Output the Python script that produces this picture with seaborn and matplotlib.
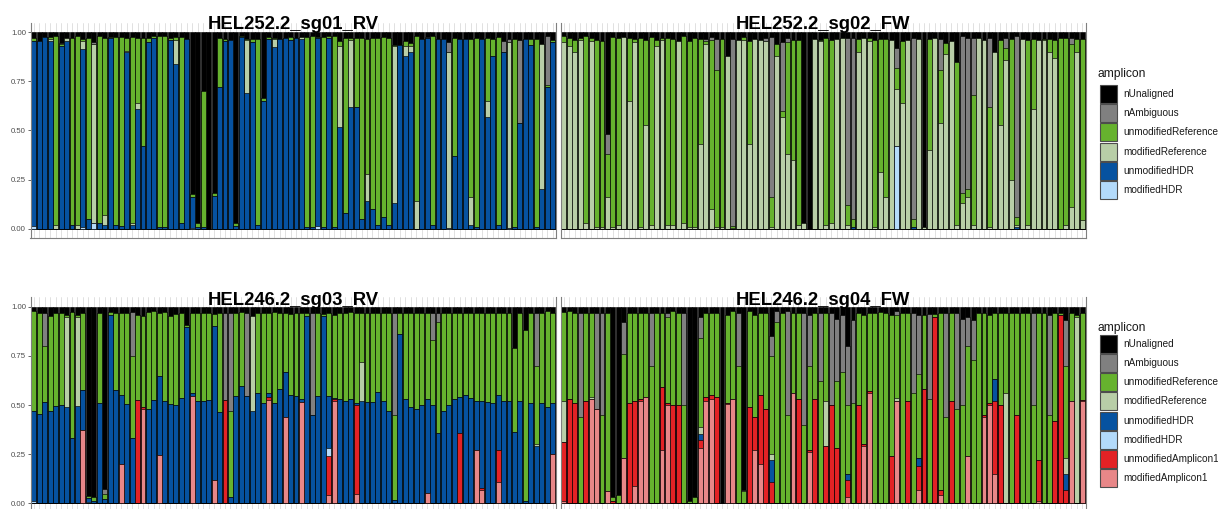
import numpy as np
import pandas as pd
import matplotlib
matplotlib.use("Agg")
import matplotlib.pyplot as plt
from matplotlib.patches import Rectangle
import seaborn as sns

sns.set_theme(style="white")
plt.rcParams["font.family"] = ["Liberation Sans", "DejaVu Sans"]

# ---------------------------------------------------------------- categories
categories = ["nUnaligned", "nAmbiguous", "unmodifiedReference", "modifiedReference",
              "unmodifiedHDR", "modifiedHDR", "unmodifiedAmplicon1", "modifiedAmplicon1"]
palette = {
    "nUnaligned": "#000000",
    "nAmbiguous": "#808080",
    "unmodifiedReference": "#66b22e",
    "modifiedReference": "#b8cea7",
    "unmodifiedHDR": "#0652a0",
    "modifiedHDR": "#b3dafa",
    "unmodifiedAmplicon1": "#e32225",
    "modifiedAmplicon1": "#e88788",
}
y_ticks = [0.0, 0.25, 0.5, 0.75, 1.0]
y_tick_labels = ["0.00", "0.25", "0.50", "0.75", "1.00"]

# ---------------------------------------------------------------- HEL252.2_sg01_RV
sg01_modified_hdr = [
    .015, 0, 0, 0, 0, 0, 0, 0, 0, .01,
    0, .03, 0, 0, 0, 0, 0, 0, 0, 0,
    0, 0, 0, 0, 0, 0, 0, 0, 0, .005,
    0, 0, 0, 0, 0, 0, 0, 0, 0, 0,
    0, 0, 0, 0, 0, 0, 0, 0, 0, 0,
    0, 0, .015, 0, 0, 0, 0, 0, 0, 0,
    0, 0, 0, 0, 0, 0, 0, 0, 0, 0,
    0, 0, 0, 0, 0, 0, .005, 0, 0, 0,
    0, 0, 0, 0, 0, 0, 0, .005, 0, 0,
    0, 0, 0, 0, 0, 0]
sg01_unmodified_hdr = [
    .94, .955, .975, .955, 0, .93, .955, .02, 0, .905,
    .05, 0, .03, .02, .97, .02, .015, .9, .02, .61,
    .42, .95, .97, .01, .01, .96, .84, .03, .965, .155,
    .01, .01, 0, .165, .72, .955, .96, .015, .975, .69,
    .95, .02, .65, .965, .925, .965, .97, .96, .97, .965,
    .01, .01, .955, .01, .97, .01, .52, .08, .62, .62,
    .05, .14, .1, .02, .06, .02, .13, .935, .88, .9,
    0, .965, .97, .02, .965, .965, 0, .37, .965, .965,
    .02, .01, .965, .57, .88, .02, .9, 0, .01, .54,
    .965, .935, .01, .2, .72, .95]
sg01_modified_ref = [
    0, 0, 0, .01, .02, 0, .015, 0, .02, .04,
    0, .91, 0, .05, 0, 0, 0, .005, .01, .03,
    0, 0, 0, 0, 0, 0, .12, 0, 0, 0,
    0, 0, 0, 0, 0, 0, 0, 0, 0, .27,
    0, 0, 0, 0, .04, 0, 0, 0, 0, .01,
    0, 0, 0, 0, 0, 0, .41, 0, .34, 0,
    0, .14, 0, 0, 0, 0, .80, 0, .05, .03,
    .14, 0, 0, 0, 0, 0, .895, 0, 0, 0,
    .14, 0, 0, .08, 0, 0, 0, .945, 0, 0,
    0, 0, 0, .74, 0, 0]
sg01_unmodified_ref = [
    .015, 0, 0, .01, .96, .01, 0, .95, .96, .01,
    .92, 0, .95, .90, .005, .955, .96, .065, .945, .33,
    .55, .02, .01, .97, .97, .01, .015, .945, 0, .015,
    .02, .69, 0, .015, .25, .01, 0, .015, .005, .005,
    .015, .945, .015, .01, .005, 0, 0, .015, 0, 0,
    .965, .97, .005, .965, .01, .97, .025, .89, .01, .35,
    .92, .685, .87, .95, .915, .95, .005, 0, .025, .015,
    .84, 0, 0, .96, 0, 0, 0, .60, 0, 0,
    .805, .96, 0, .32, .085, .955, 0, 0, .955, 0,
    0, .03, .955, 0, .01, .01]
sg01_ambiguous = [
    0, 0, 0, 0, 0, .005, 0, 0, 0, 0,
    0, .01, 0, 0, 0, 0, 0, 0, 0, 0,
    0, 0, 0, 0, 0, 0, 0, 0, 0, 0,
    0, 0, 0, 0, 0, 0, 0, 0, 0, 0,
    0, 0, 0, 0, 0, 0, 0, 0, 0, 0,
    0, 0, 0, 0, 0, 0, 0, 0, 0, 0,
    0, 0, 0, 0, 0, 0, 0, 0, 0, 0,
    0, 0, .005, 0, 0, 0, .05, 0, 0, 0,
    0, 0, 0, 0, 0, 0, .055, .015, 0, .42,
    0, 0, 0, 0, .25, 0]

# ---------------------------------------------------------------- HEL252.2_sg02_FW
sg02_modified_hdr = [
    0, 0, 0, 0, 0, 0, 0, 0, 0, 0,
    0, 0, 0, 0, 0, 0, 0, 0, 0, 0,
    0, 0, 0, 0, 0, 0, 0, 0, 0, 0,
    0, 0, 0, 0, 0, 0, 0, 0, 0, 0,
    0, 0, 0, 0, 0, 0, 0, 0, 0, 0,
    0, 0, 0, 0, 0, 0, 0, 0, 0, 0,
    0, .42, 0, 0, 0, 0, 0, 0, 0, 0,
    0, 0, 0, 0, 0, 0, 0, 0, 0, 0,
    0, 0, 0, 0, 0, 0, 0, 0, 0, 0,
    0, 0, 0, 0, 0, 0]
sg02_unmodified_hdr = [
    0, 0, 0, 0, 0, 0, 0, 0, 0, 0,
    0, 0, 0, 0, 0, 0, 0, 0, 0, 0,
    0, 0, 0, 0, 0, 0, 0, 0, 0, 0,
    0, 0, 0, 0, 0, 0, 0, 0, 0, 0,
    0, 0, 0, 0, 0, 0, 0, 0, 0, 0,
    0, 0, 0, .01, 0, 0, 0, 0, 0, 0,
    0, 0, 0, 0, .01, 0, 0, 0, 0, 0,
    0, 0, 0, 0, 0, 0, 0, 0, 0, 0,
    0, 0, 0, .01, 0, 0, 0, 0, 0, 0,
    0, 0, 0, 0, 0, 0]
sg02_modified_ref = [
    .95, .93, .90, .96, .03, .955, .01, .01, .16, .01,
    .02, .975, .65, .95, .01, .53, .02, .93, .96, .02,
    .02, .955, .03, .01, .01, .43, .94, .10, .01, .01,
    .88, .005, .96, .96, .43, .965, .96, .955, .01, .88,
    .57, .38, .35, .02, .03, 0, .965, .955, .02, .03,
    .965, .97, .02, 0, .90, .97, .955, .01, .29, .16,
    .96, .29, .64, .96, 0, .965, .01, .40, .97, .54,
    .89, .955, .02, .13, .16, .02, .97, .96, .01, .90,
    .53, .86, .25, .01, .965, .02, .61, .96, .96, .90,
    .87, 0, .02, .11, .90, .045]
sg02_unmodified_ref = [
    .03, .04, .06, .01, .95, .015, .95, .945, .22, .965,
    .95, 0, .32, .015, .96, .43, .955, .03, .01, .95,
    .945, 0, .95, .945, .96, .535, .015, .86, .80, .955,
    0, .01, 0, .015, .525, 0, 0, 0, .15, .06,
    .03, .57, .61, .94, 0, 0, 0, .005, .95, .93,
    0, 0, .10, .04, .065, 0, .015, .95, .675, .805,
    0, .11, .315, 0, .04, 0, 0, .565, 0, .27,
    .055, 0, .83, .05, .04, .66, 0, 0, .61, 0,
    .43, .06, .715, .04, 0, .94, .355, 0, .005, .065,
    .09, .97, .95, .83, .065, .92]
sg02_ambiguous = [
    0, 0, 0, 0, 0, 0, 0, 0, .10, 0,
    0, 0, 0, 0, 0, 0, 0, 0, 0, 0,
    0, 0, 0, 0, 0, 0, .01, .015, .155, 0,
    0, .95, 0, 0, 0, 0, 0, .015, .815, 0,
    .35, .02, 0, 0, 0, 0, 0, 0, 0, 0,
    0, 0, .85, .92, 0, 0, 0, 0, 0, 0,
    0, .10, 0, 0, .92, 0, 0, 0, 0, .155,
    0, 0, 0, .80, .77, .29, 0, 0, .35, 0,
    0, .05, 0, .92, 0, 0, 0, 0, 0, 0,
    0, 0, 0, .03, 0, 0]

# ---------------------------------------------------------------- HEL246.2_sg03_RV
sg03_modified_amplicon1 = [
    0, 0, 0, 0, 0, 0, 0, 0, 0, .375,
    0, 0, 0, 0, 0, 0, .2, 0, 0, 0,
    .48, 0, 0, .245, 0, 0, 0, 0, 0, .545,
    0, 0, 0, .12, 0, 0, 0, 0, 0, 0,
    0, 0, 0, .525, 0, 0, .44, 0, 0, .515,
    0, 0, 0, 0, .04, .52, 0, 0, 0, .045,
    0, 0, 0, 0, 0, 0, 0, 0, 0, 0,
    0, 0, .05, 0, 0, 0, 0, 0, 0, 0,
    0, .27, .07, 0, 0, .11, 0, 0, 0, 0,
    0, 0, 0, 0, 0, .25]
sg03_unmodified_amplicon1 = [
    0, 0, 0, 0, 0, 0, 0, 0, 0, 0,
    0, 0, 0, 0, 0, 0, 0, 0, 0, .525,
    .01, 0, 0, 0, 0, 0, 0, 0, 0, 0,
    0, 0, 0, 0, 0, .525, 0, 0, 0, 0,
    0, 0, 0, .015, 0, 0, 0, 0, 0, 0,
    0, 0, 0, 0, .20, .01, 0, 0, 0, .455,
    0, 0, 0, 0, 0, 0, 0, 0, 0, 0,
    0, 0, 0, 0, 0, 0, 0, 0, .36, 0,
    0, 0, .01, 0, 0, .16, 0, 0, 0, 0,
    0, 0, 0, 0, 0, 0]
sg03_modified_hdr = [
    .01, 0, 0, 0, 0, 0, 0, 0, 0, 0,
    .005, 0, 0, 0, 0, 0, 0, 0, 0, 0,
    0, 0, 0, 0, 0, 0, 0, 0, 0, 0,
    0, 0, 0, 0, 0, 0, 0, 0, 0, 0,
    0, 0, 0, 0, 0, 0, 0, 0, 0, 0,
    0, 0, 0, 0, .04, 0, 0, 0, 0, 0,
    0, 0, 0, 0, 0, 0, 0, 0, 0, 0,
    0, 0, 0, 0, 0, 0, 0, 0, 0, 0,
    0, 0, 0, 0, 0, 0, 0, 0, 0, 0,
    0, 0, 0, 0, 0, 0]
sg03_unmodified_hdr = [
    .46, .455, .515, .47, .495, .50, .49, .33, .495, .20,
    .02, .01, .51, .02, .96, .575, .35, .505, .33, 0,
    0, .48, .525, .405, .52, .505, .50, .535, .895, .015,
    .52, .52, .525, .78, .465, 0, .03, .545, .595, .545,
    .47, .56, .51, .02, .51, .58, .23, .55, .545, .015,
    .955, .45, .545, .955, .265, .005, .53, .52, .53, .01,
    .52, .515, .515, .565, .52, .47, .015, .86, .53, .49,
    .48, .50, .48, .50, .36, .47, .50, .53, .18, .55,
    .535, .25, .44, .515, .51, .28, .52, .52, .365, .52,
    .01, .51, .29, .51, .49, .26]
sg03_modified_ref = [
    0, 0, 0, 0, 0, 0, .46, 0, .455, 0,
    0, 0, 0, 0, 0, 0, 0, 0, 0, 0,
    0, 0, 0, 0, 0, 0, 0, 0, 0, 0,
    0, 0, 0, 0, 0, 0, 0, 0, 0, 0,
    .485, 0, 0, 0, 0, 0, 0, 0, 0, 0,
    0, 0, 0, 0, 0, 0, 0, 0, 0, 0,
    .20, 0, 0, 0, 0, 0, 0, 0, 0, 0,
    0, 0, 0, 0, 0, 0, 0, 0, 0, 0,
    0, 0, 0, 0, 0, 0, 0, 0, 0, 0,
    0, 0, .01, 0, 0, 0]
sg03_unmodified_ref = [
    .51, .515, .285, .485, .475, .47, .01, .645, .01, .395,
    .01, .02, .46, .025, .015, .395, .42, .465, .42, .435,
    .465, .495, .455, .32, .455, .45, .465, .435, .01, .41,
    .45, .45, .445, .065, .505, 0, .44, .425, .38, 0,
    0, .41, .46, .41, .465, .39, .30, .415, .425, .44,
    .015, 0, .425, .01, .425, .425, .44, .45, .445, .46,
    .25, .455, .455, .405, .45, .50, .435, .11, .44, .48,
    .49, .47, .44, .33, .56, .50, .47, .44, .43, .42,
    .435, .45, .45, .455, .46, .42, .45, .45, .425, .45,
    .87, .46, .40, .46, .49, .46]
sg03_ambiguous = [
    0, 0, .17, 0, 0, 0, 0, 0, 0, 0,
    0, 0, 0, .03, 0, 0, 0, 0, .225, 0,
    0, 0, 0, 0, 0, 0, 0, 0, 0, 0,
    0, 0, 0, 0, 0, .445, .50, 0, 0, .425,
    0, 0, 0, 0, 0, 0, 0, 0, 0, 0,
    0, .52, 0, 0, 0, 0, 0, 0, 0, 0,
    0, 0, 0, 0, 0, 0, .52, 0, 0, 0,
    0, 0, 0, .14, .05, 0, 0, 0, 0, 0,
    0, 0, 0, 0, 0, 0, 0, 0, 0, 0,
    0, 0, .27, 0, 0, 0]

# ---------------------------------------------------------------- HEL246.2_sg04_FW
sg04_modified_amplicon1 = [
    .01, 0, 0, 0, 0, .53, .48, 0, .06, 0,
    0, .23, 0, .09, .52, .54, 0, 0, .27, .50,
    0, 0, 0, 0, 0, .28, .52, .53, 0, 0,
    .505, .53, 0, 0, 0, .27, .20, 0, 0, 0,
    0, 0, .56, 0, 0, .26, 0, 0, 0, 0,
    0, 0, .03, 0, 0, .29, .56, 0, 0, 0,
    0, .52, 0, 0, 0, .07, 0, 0, 0, .04,
    0, 0, 0, 0, .24, 0, 0, .44, .50, .15,
    0, 0, 0, 0, 0, 0, 0, .01, 0, 0,
    0, 0, 0, .52, 0, .52]
sg04_unmodified_amplicon1 = [
    .30, .53, .51, 0, .52, 0, 0, 0, 0, .01,
    0, 0, .51, .43, .01, 0, 0, 0, .32, .01,
    .50, .50, 0, 0, 0, .04, .02, .02, .54, 0,
    .005, 0, 0, 0, .49, .17, .35, .48, .11, 0,
    0, 0, 0, .53, 0, .01, .53, 0, .29, .50,
    .28, 0, .09, 0, .50, .01, .01, 0, 0, 0,
    .24, 0, 0, .52, 0, .12, .58, 0, .95, .03,
    0, .52, 0, 0, 0, 0, 0, .01, .01, .37,
    .50, 0, 0, .45, 0, 0, 0, .21, 0, 0,
    .42, .96, .07, 0, 0, .005]
sg04_unmodified_hdr = [
    0, 0, 0, 0, 0, 0, 0, 0, 0, 0,
    0, 0, 0, 0, 0, 0, 0, 0, 0, 0,
    0, 0, 0, 0, 0, .03, 0, 0, 0, 0,
    0, 0, 0, 0, 0, 0, 0, 0, .11, 0,
    0, 0, 0, 0, 0, 0, 0, 0, 0, 0,
    0, 0, .03, 0, 0, 0, 0, 0, 0, 0,
    0, 0, 0, 0, 0, .04, 0, 0, 0, 0,
    0, 0, 0, 0, 0, 0, 0, 0, 0, .11,
    0, 0, 0, 0, 0, 0, 0, 0, 0, 0,
    0, 0, .08, 0, 0, 0]
sg04_modified_ref = [
    .21, 0, 0, 0, 0, .01, 0, 0, 0, 0,
    0, 0, 0, 0, 0, 0, 0, 0, 0, 0,
    0, 0, 0, 0, 0, .04, 0, 0, 0, 0,
    0, 0, 0, 0, 0, 0, 0, 0, .03, 0,
    0, 0, 0, 0, 0, 0, 0, 0, .23, 0,
    0, 0, 0, 0, 0, 0, 0, 0, 0, 0,
    0, .015, 0, 0, 0, 0, 0, 0, 0, 0,
    0, 0, 0, 0, 0, 0, 0, 0, 0, 0,
    0, .56, 0, 0, 0, 0, 0, 0, 0, 0,
    0, 0, .08, 0, .95, 0]
sg04_unmodified_ref = [
    .455, .45, .46, .44, .45, .43, 0, .45, .91, .02,
    .04, .53, .46, .45, .44, .43, .70, .97, .38, .44,
    .48, .47, .50, .01, .03, .45, .43, .42, .43, 0,
    .45, .45, .70, .06, .49, .52, .42, .49, .50, .92,
    .97, .45, .41, .44, .40, .43, .44, .62, .45, 0,
    .34, .67, .35, .51, .47, .66, .40, .97, .975, .97,
    .72, .425, .97, .45, .56, .43, .38, .53, .015, .90,
    .44, .45, .48, .50, .56, .73, .97, .52, .45, .34,
    .47, .41, .97, .52, .97, .97, .50, .75, .97, .45,
    .55, .01, .47, .45, .01, .445]
sg04_ambiguous = [
    0, 0, 0, .53, 0, 0, .49, .52, 0, 0,
    0, .16, 0, 0, 0, 0, .27, 0, 0, .02,
    0, 0, .47, 0, 0, .11, 0, 0, 0, 0,
    0, 0, .27, .005, 0, 0, 0, 0, .10, .06,
    0, .53, 0, 0, .57, .26, 0, .35, 0, .47,
    .32, .29, .30, .42, 0, 0, 0, 0, 0, 0,
    0, .02, 0, 0, .41, .30, 0, .435, 0, 0,
    .53, 0, .49, .44, .15, .20, 0, 0, 0, 0,
    0, 0, 0, 0, 0, 0, .47, 0, 0, .51,
    0, 0, .23, 0, 0, 0]

panels = [
    ("HEL252.2_sg01_RV", {
        "nAmbiguous": sg01_ambiguous,
        "unmodifiedReference": sg01_unmodified_ref,
        "modifiedReference": sg01_modified_ref,
        "unmodifiedHDR": sg01_unmodified_hdr,
        "modifiedHDR": sg01_modified_hdr}),
    ("HEL252.2_sg02_FW", {
        "nAmbiguous": sg02_ambiguous,
        "unmodifiedReference": sg02_unmodified_ref,
        "modifiedReference": sg02_modified_ref,
        "unmodifiedHDR": sg02_unmodified_hdr,
        "modifiedHDR": sg02_modified_hdr}),
    ("HEL246.2_sg03_RV", {
        "nAmbiguous": sg03_ambiguous,
        "unmodifiedReference": sg03_unmodified_ref,
        "modifiedReference": sg03_modified_ref,
        "unmodifiedHDR": sg03_unmodified_hdr,
        "modifiedHDR": sg03_modified_hdr,
        "unmodifiedAmplicon1": sg03_unmodified_amplicon1,
        "modifiedAmplicon1": sg03_modified_amplicon1}),
    ("HEL246.2_sg04_FW", {
        "nAmbiguous": sg04_ambiguous,
        "unmodifiedReference": sg04_unmodified_ref,
        "modifiedReference": sg04_modified_ref,
        "unmodifiedHDR": sg04_unmodified_hdr,
        "unmodifiedAmplicon1": sg04_unmodified_amplicon1,
        "modifiedAmplicon1": sg04_modified_amplicon1}),
]


def stacked_frame(parts):
    """Long table of cumulative segment tops; reads not aligned fill the rest."""
    n = len(next(iter(parts.values())))
    present = [c for c in categories if c in parts or c == "nUnaligned"]
    frac = {c: np.asarray(parts[c], float) for c in present if c != "nUnaligned"}
    frac["nUnaligned"] = 1.0 - sum(frac.values())
    rows = []
    top = np.zeros(n)
    for c in reversed(present):          # bottom of the stack first
        top = top + frac[c]
        for i in range(n):
            rows.append((i + 1, c, frac[c][i], top[i]))
    return pd.DataFrame(rows, columns=["sample", "amplicon", "fraction", "top"]), present, n


W, H = 1218, 509
fig = plt.figure(figsize=(W / 100, H / 100), dpi=100)


def px_axes(x0, x1, y_top, y_bot):
    return fig.add_axes([x0 / W, 1 - y_bot / H, (x1 - x0) / W, (y_bot - y_top) / H])


layout = [
    (30.5, 556.0, 22.5, 238.5, True),
    (560.5, 1085.5, 22.5, 238.5, False),
    (30.5, 556.0, 296.9, 513.1, True),
    (560.5, 1085.5, 296.9, 513.1, False),
]
title_baseline = [29.0, 29.0, 305.0, 305.0]

for (title, parts), (x0, x1, yt, yb, show_y), tb in zip(panels, layout, title_baseline):
    ax = px_axes(x0, x1, yt, yb)
    df, present, n = stacked_frame(parts)
    order = list(range(1, n + 1))
    for c in present:                    # draw tallest (top) layer first
        sub = df[df["amplicon"] == c]
        sns.barplot(data=sub, x="sample", y="top", order=order, color=palette[c],
                    saturation=1, width=0.9, edgecolor="black", linewidth=0.45,
                    errorbar=None, ax=ax, zorder=2)
    ax.set_xlim(-0.6, n - 1 + 0.6)
    ax.set_ylim(-0.05, 1.05)
    ax.set_xlabel("")
    ax.set_ylabel("")
    ax.set_xticks(range(n))
    ax.set_xticklabels([])
    ax.tick_params(axis="x", length=0)
    ax.xaxis.grid(True, color="#dcdcdc", linewidth=0.6, zorder=0)
    ax.yaxis.grid(False)
    ax.set_axisbelow(True)
    ax.set_yticks(y_ticks)
    if show_y:
        ax.set_yticklabels(y_tick_labels, fontsize=5.6, color="#4d4d4d")
        ax.tick_params(axis="y", length=2.2, width=0.6, color="#4d4d4d", pad=1,
                       left=True)
    else:
        ax.set_yticklabels([])
        ax.tick_params(axis="y", length=0)
    for side in ("left", "right", "bottom"):
        ax.spines[side].set_visible(True)
        ax.spines[side].set_color("#7f7f7f")
        ax.spines[side].set_linewidth(0.8)
    ax.spines["top"].set_visible(False)
    fig.text((x0 + x1) / 2 / W, 1 - tb / H, title, ha="center", va="baseline",
             fontsize=13.3, fontweight="bold", color="black")


def draw_legend(entries, title_y, key_top, pitch=19.2):
    fig.text(1098 / W, 1 - title_y / H, "amplicon", ha="left", va="baseline",
             fontsize=8.7, color="#1a1a1a")
    for j, c in enumerate(entries):
        y0 = key_top + j * pitch
        fig.add_artist(Rectangle((1099.5 / W, 1 - (y0 + 18) / H), 17.5 / W, 18 / H,
                                 transform=fig.transFigure, facecolor=palette[c],
                                 edgecolor="#4d4d4d", linewidth=0.8))
        fig.text(1123.5 / W, 1 - (y0 + 9) / H, c, ha="left", va="center",
                 fontsize=7.2, color="#1a1a1a")


draw_legend(categories[:6], 77.5, 85.0)
draw_legend(categories, 330.7, 335.0, pitch=19.14)

fig.savefig("out.png", dpi=100)
